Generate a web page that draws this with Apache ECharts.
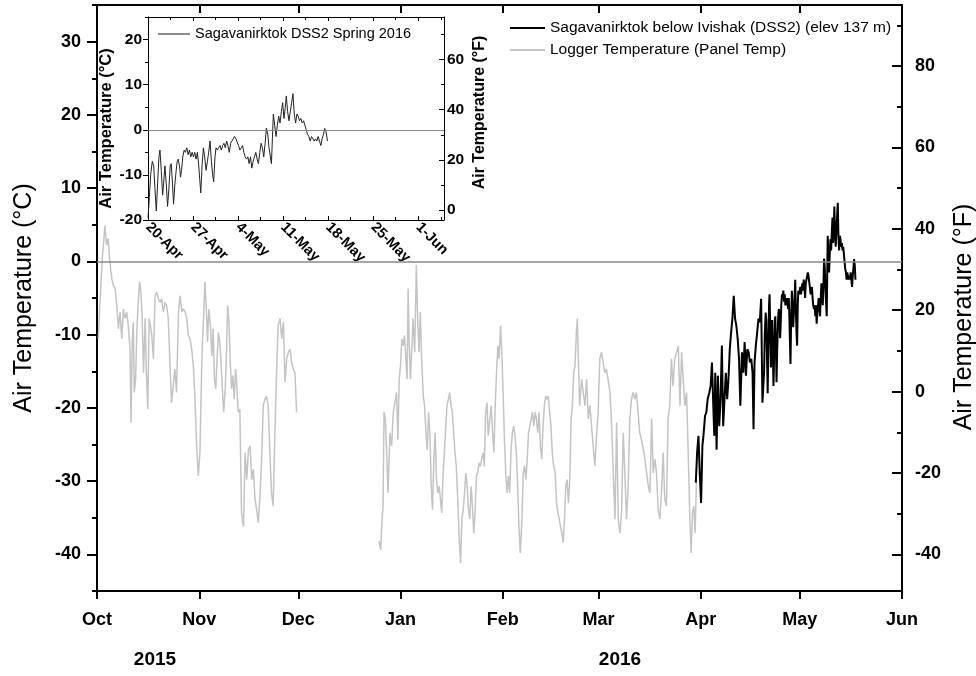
<!DOCTYPE html>
<html><head><meta charset="utf-8">
<script src="https://cdn.jsdelivr.net/npm/echarts@6/dist/echarts.min.js"></script>
<style>html,body{margin:0;padding:0;background:#fff}#c{width:976px;height:676px}</style>
</head><body><div id="c"></div>
<script>
// ---- tick labels / categories ----
const monthLabels = ['Oct','Nov','Dec','Jan','Feb','Mar','Apr','May','Jun'];
const monthStartDays = [0,31,61,92,123,152,183,213,244]; // days since 1-Oct-2015
const yearLabels = ['2015','2016'];
const cTicks = [-40,-30,-20,-10,0,10,20,30];
const cMinorTicks = [-45,-40,-35,-30,-25,-20,-15,-10,-5,0,5,10,15,20,25,30,35];
const fTicks = [-40,-20,0,20,40,60,80];
const fMinorTicks = [-40,-30,-20,-10,0,10,20,30,40,50,60,70,80,90];
const insetStartDay = 202; // 20-Apr-2016
const insetTickLabels = ['20-Apr','27-Apr','4-May','11-May','18-May','25-May','1-Jun'];
const insetCTicks = [-20,-10,0,10,20];
const insetCMinorTicks = [-20,-15,-10,-5,0,5,10,15,20,25];
const insetFTicks = [0,20,40,60];
const insetFMinorTicks = [0,10,20,30,40,50,60,70];

// ---- series values: [days since 1-Oct-2015, air temperature degC] ----
const loggerTemp = [
[0.4,-10.6],[0.9,-5.6],[1.6,0.4],[2.4,4.9],[2.9,2.2],[3.4,3.1],[3.9,-0.1],[4.5,-2.4],[5.0,-3.3],[5.5,-3.7],[6.0,-6.0],[6.5,-9.2],[7.0,-6.9],[7.5,-10.6],[8.0,-6.5],[8.5,-7.8],[9.0,-6.9],[9.5,-8.8],[10.0,-12.0],[10.3,-22.0],[10.7,-10.6],[11.0,-8.3],[11.3,-17.9],[11.7,-16.1],[12.1,-9.2],[12.5,-5.6],[12.9,-2.8],[13.3,-4.2],[13.7,-7.8],[14.1,-15.2],[14.6,-7.8],[15.0,-15.6],[15.4,-20.2],[15.8,-7.8],[16.2,-8.8],[16.6,-10.1],[17.1,-13.3],[17.6,-4.7],[18.1,-4.2],[18.6,-5.1],[19.1,-5.6],[19.6,-5.1],[20.1,-6.9],[20.6,-5.6],[21.1,-6.0],[21.6,-7.8],[22.1,-13.8],[22.6,-19.3],[23.1,-17.0],[23.6,-14.7],[24.1,-17.9],[24.7,-6.9],[25.2,-4.7],[25.7,-6.9],[26.2,-6.5],[26.7,-6.9],[27.2,-7.8],[27.7,-10.1],[28.2,-10.6],[28.7,-12.0],[29.2,-14.2],[29.7,-18.8],[30.2,-25.2],[30.7,-29.3],[31.2,-26.1],[31.5,-19.3],[31.9,-11.5],[32.3,-7.8],[32.7,-2.8],[33.1,-6.0],[33.5,-11.0],[33.9,-6.5],[34.4,-8.8],[34.8,-12.9],[35.2,-9.2],[35.6,-16.1],[36.0,-17.4],[36.4,-13.3],[36.8,-9.7],[37.2,-11.0],[37.6,-13.8],[38.0,-17.4],[38.4,-20.6],[38.8,-17.9],[39.2,-13.3],[39.6,-6.0],[40.0,-8.3],[40.4,-13.8],[40.8,-17.4],[41.2,-15.6],[41.6,-18.8],[42.0,-14.7],[42.4,-17.0],[42.8,-20.6],[43.3,-20.2],[43.8,-34.3],[44.4,-36.2],[44.9,-26.1],[45.4,-29.8],[45.9,-25.7],[46.4,-25.2],[46.9,-29.8],[47.4,-28.4],[47.9,-32.5],[48.4,-33.9],[48.9,-35.7],[49.4,-32.0],[49.9,-27.0],[50.4,-19.7],[50.9,-18.8],[51.4,-18.4],[51.9,-19.7],[52.4,-26.1],[52.9,-31.6],[53.4,-33.4],[53.9,-23.8],[54.4,-15.6],[54.9,-8.8],[55.5,-7.8],[56.0,-10.6],[56.5,-8.3],[57.0,-16.5],[57.5,-13.3],[58.0,-12.4],[58.5,-12.0],[59.0,-13.8],[59.5,-14.7],[60.0,-15.2],[60.5,-20.6],
[73,null],
[85.5,-38.2],[86.0,-39.4],[86.4,-35.2],[86.7,-33.4],[87.0,-20.6],[87.4,-21.5],[87.8,-26.1],[88.2,-31.6],[88.8,-23.4],[89.3,-25.2],[89.8,-20.6],[90.3,-19.3],[90.8,-17.9],[91.2,-24.3],[91.6,-16.1],[92.0,-14.2],[92.4,-10.6],[92.8,-11.5],[93.2,-10.1],[93.6,-13.3],[94.0,-16.1],[94.3,-3.7],[94.6,-10.6],[95.0,-16.1],[95.4,-12.0],[95.8,-7.8],[96.3,-12.4],[96.8,-0.5],[97.2,-7.8],[97.6,-12.4],[98.0,-6.9],[98.4,-13.3],[98.9,-18.4],[99.3,-19.7],[99.7,-23.4],[100.1,-25.7],[100.5,-20.6],[100.9,-23.4],[101.3,-30.7],[101.7,-33.9],[102.1,-27.0],[102.5,-23.4],[102.9,-29.8],[103.3,-31.6],[103.7,-30.7],[104.1,-32.5],[104.5,-34.3],[104.9,-28.9],[105.3,-26.1],[105.7,-22.5],[106.1,-19.7],[106.5,-18.8],[106.9,-17.9],[107.3,-19.7],[107.7,-20.6],[108.1,-23.4],[108.5,-26.1],[108.9,-27.9],[109.4,-33.0],[109.8,-38.0],[110.2,-41.2],[110.6,-35.2],[111.0,-33.9],[111.4,-31.6],[111.8,-28.9],[112.2,-30.7],[112.6,-33.9],[113.0,-35.2],[113.4,-30.7],[113.8,-33.4],[114.2,-37.1],[114.6,-34.3],[115.0,-29.3],[115.4,-28.9],[115.8,-27.5],[116.2,-28.0],[116.6,-27.0],[117.0,-26.1],[117.4,-28.0],[117.8,-20.6],[118.2,-19.3],[118.6,-23.8],[119.1,-21.5],[119.5,-19.7],[119.9,-23.4],[120.3,-26.1],[120.7,-19.7],[121.1,-15.2],[121.5,-11.5],[121.9,-13.3],[122.3,-8.8],[122.7,-12.4],[123.1,-17.9],[123.5,-24.3],[123.9,-28.9],[124.3,-31.6],[124.7,-29.3],[125.1,-31.6],[125.5,-25.7],[125.9,-23.4],[126.3,-22.5],[126.7,-23.8],[127.1,-26.1],[127.5,-30.7],[127.9,-36.2],[128.3,-39.8],[128.8,-35.2],[129.2,-28.9],[129.6,-27.9],[130.0,-29.8],[130.4,-27.0],[130.8,-23.4],[131.2,-22.5],[131.6,-21.5],[132.0,-20.6],[132.4,-22.5],[132.8,-20.6],[133.2,-21.5],[133.6,-23.4],[134.0,-20.6],[134.4,-25.2],[134.8,-27.0],[135.2,-22.5],[135.6,-19.7],[136.0,-18.4],[136.4,-18.8],[136.8,-18.4],[137.2,-20.6],[137.6,-22.5],[138.0,-26.1],[138.4,-27.9],[138.9,-28.9],[139.3,-33.0],[139.7,-34.3],[140.1,-35.2],[140.5,-36.2],[140.9,-37.1],[141.3,-38.4],[141.7,-35.2],[142.1,-30.7],[142.5,-29.8],[142.9,-33.0],[143.3,-29.8],[143.7,-21.5],[144.1,-19.7],[144.5,-15.2],[144.9,-14.2],[145.3,-9.7],[145.6,-7.8],[145.9,-13.3],[146.3,-19.7],
[146.9,-16.1],[147.4,-17.9],[147.9,-19.7],[148.4,-16.1],[148.9,-21.5],[149.4,-19.7],[149.9,-22.5],[150.4,-25.2],[150.9,-27.9],[151.4,-23.8],[151.9,-20.6],[152.4,-13.3],[152.9,-12.4],[153.4,-13.8],[153.9,-15.2],[154.4,-14.7],[154.9,-16.1],[155.5,-17.9],[156.0,-22.5],[156.5,-28.9],[157.0,-35.2],[157.5,-22.0],[158.0,-35.2],[158.5,-37.1],[159.0,-34.3],[159.5,-23.4],[160.0,-28.9],[160.5,-35.2],[161.0,-30.7],[161.5,-21.5],[162.0,-18.8],[162.5,-17.9],[163.0,-18.8],[163.5,-17.9],[164.0,-20.6],[164.5,-23.4],[165.0,-24.3],[165.6,-25.7],[166.1,-27.0],[166.6,-28.9],[167.1,-30.7],[167.6,-31.6],[168.1,-21.5],[168.6,-28.9],[169.1,-27.0],[169.6,-28.9],[170.1,-33.9],[170.6,-35.2],[171.1,-31.6],[171.6,-26.1],[172.1,-32.5],[172.6,-33.4],[173.1,-21.5],[173.6,-19.7],[174.1,-13.3],[174.6,-17.0],[175.1,-13.3],[175.7,-12.4],[176.2,-11.5],[176.7,-19.7],[177.2,-12.4],[177.7,-16.1],[178.2,-19.7],[178.7,-17.9],[179.2,-26.1],[179.7,-35.2],[180.1,-39.8],[180.5,-34.3],[180.9,-33.4],[181.3,-37.1],[181.7,-29.8]
];
const dss2Temp = [
[181.5,-30.2],[181.9,-26.1],[182.3,-23.8],[182.7,-28.9],[183.1,-33.0],[183.5,-25.2],[183.9,-23.4],[184.3,-21.1],[184.7,-20.6],[185.1,-18.8],[185.6,-17.9],[186.0,-17.0],[186.4,-13.8],[186.8,-19.7],[187.1,-23.8],[187.4,-15.2],[187.8,-25.7],[188.2,-15.6],[188.6,-22.5],[189.0,-18.8],[189.4,-11.5],[189.8,-22.5],[190.2,-18.8],[190.6,-15.2],[191.0,-18.8],[191.4,-16.1],[191.8,-12.0],[192.2,-9.7],[192.6,-7.8],[193.0,-4.7],[193.4,-7.8],[193.8,-8.8],[194.2,-10.6],[194.6,-13.3],[195.0,-19.7],[195.5,-12.4],[195.9,-15.2],[196.3,-11.0],[196.7,-15.6],[197.1,-12.0],[197.5,-12.4],[197.9,-13.8],[198.3,-13.3],[198.7,-15.2],[199.0,-22.9],[199.3,-13.8],[199.7,-11.5],[200.1,-9.7],[200.5,-7.8],[200.9,-8.3],[201.3,-5.1],[201.7,-19.3],
[202.00,-19.5],[202.21,-15],[202.41,-10],[202.67,-7],[202.88,-8],[203.08,-13],[203.29,-18],[203.49,-12],[203.70,-6],[203.86,-4.5],[204.06,-9],[204.27,-14.5],[204.42,-12],[204.63,-8],[204.84,-12],[205.04,-17],[205.25,-13],[205.45,-8],[205.61,-7.5],[205.81,-12],[205.97,-16.5],[206.18,-12],[206.38,-9],[206.54,-7],[206.69,-6.5],[206.90,-8],[207.05,-10.5],[207.21,-9],[207.41,-6],[207.62,-4.5],[207.82,-5],[208.03,-4],[208.24,-5.5],[208.44,-4.5],[208.65,-6],[208.86,-5],[209.06,-6],[209.27,-5],[209.47,-6.5],[209.68,-5],[209.89,-8],[210.04,-11],[210.20,-14],[210.40,-8],[210.61,-4],[210.81,-6],[211.02,-9],[211.23,-7],[211.43,-5],[211.64,-2.5],[211.85,-7],[212.05,-10],[212.21,-11.5],[212.41,-6],[212.57,-4],[212.77,-4.5],[212.98,-4],[213.19,-3.5],[213.39,-4.5],[213.60,-3.5],[213.80,-3],[214.01,-4],[214.22,-2.5],[214.42,-3.5],[214.63,-5],[214.84,-3],[215.04,-2.5],[215.25,-2],[215.45,-1.5],[215.66,-2],[215.87,-2],[216.07,-3.5],[216.28,-4.5],[216.48,-4],[216.69,-3.5],[216.90,-5],[217.10,-6],[217.31,-6.5],[217.52,-6],[217.72,-7.5],[217.93,-6],[218.13,-8.5],[218.34,-7],[218.55,-6],[218.75,-5],[218.96,-6.5],[219.16,-7.5],[219.37,-5],[219.58,-3],[219.78,-4],[219.99,-6],[220.20,-3],[220.40,0.4],[220.61,-1],[220.81,-4],[221.02,-6],[221.18,-7.5],[221.33,-2],[221.48,3.5],[221.69,1],[221.90,-1.5],[222.10,1],[222.31,3],[222.52,1.5],[222.72,4],[222.93,6],[223.13,2.5],[223.34,5],[223.49,7.5],[223.70,4],[223.91,2],[224.11,4],[224.32,6],[224.53,8],[224.73,3.5],[224.94,1.5],[225.14,3.5],[225.35,3],[225.56,2],[225.76,2.5],[225.97,1.5],[226.18,2],[226.38,1],[226.59,0],[226.79,-1],[227.00,-1.5],[227.21,-2.5],[227.41,-1.5],[227.62,-2],[227.82,-2.5],[228.03,-2],[228.24,-2.5],[228.44,-1.5],[228.65,-2.5],[228.86,-3.5],[229.06,-2],[229.27,-1],[229.47,0.3],[229.68,-0.5],[229.89,-2.5]
];

const C_MIN = -45, C_MAX = 35, X_MAX = 244;
const IN_C_MIN = -20, IN_C_MAX = 25, IN_X_MAX = 46;
const toF = c => Math.round((c * 1.8 + 32) * 100) / 100;
const FONT = 'Liberation Sans';
const NAME_MAIN = 'Sagavanirktok below Ivishak (DSS2) (elev 137 m)';
const NAME_LOGGER = 'Logger Temperature (Panel Temp)';
const NAME_INSET = 'Sagavanirktok DSS2 Spring 2016';

const insetData = dss2Temp.filter(p => p[0] >= insetStartDay).map(p => [Math.round((p[0] - insetStartDay) * 100) / 100, p[1]]);

const blackLine = { show: true, onZero: false, lineStyle: { color: '#000', width: 2 } };
const thinLine = { show: true, onZero: false, lineStyle: { color: '#000', width: 1 } };
const noLine = { show: false, onZero: false };
const noSplit = { show: false };
const boldLbl = (size) => ({ color: '#000', fontFamily: FONT, fontWeight: 'bold', fontSize: size });

const chart = echarts.init(document.getElementById('c'));
chart.setOption({
  animation: false,
  backgroundColor: '#fff',
  grid: [
    { left: 97, right: 74, top: 5, bottom: 85, containLabel: false, outerBoundsMode: 'none' },
    { left: 148, top: 17, width: 296, height: 203, containLabel: false, outerBoundsMode: 'none' }
  ],
  legend: [
    { data: [NAME_MAIN, NAME_LOGGER], orient: 'vertical', left: 505, top: 14, icon: 'rect', itemWidth: 35, itemHeight: 2, itemGap: 4,
      textStyle: { fontFamily: FONT, fontSize: 15.5, color: '#000', lineHeight: 18 } },
    { data: [NAME_INSET], left: 153, top: 20, icon: 'rect', itemWidth: 32, itemHeight: 1.5,
      textStyle: { fontFamily: FONT, fontSize: 14.5, color: '#000', lineHeight: 18 } }
  ],
  xAxis: [
    { type: 'value', gridIndex: 0, min: 0, max: X_MAX, position: 'bottom', axisLine: blackLine, splitLine: noSplit,
      axisTick: { show: true, customValues: monthStartDays, length: 8, lineStyle: { width: 2, color: '#000' } },
      axisLabel: Object.assign({ customValues: monthStartDays, margin: 20,
        formatter: v => monthLabels[monthStartDays.indexOf(v)] || '' }, boldLbl(18)) },
    { type: 'value', gridIndex: 0, min: 0, max: X_MAX, position: 'top', axisLine: blackLine, splitLine: noSplit,
      axisTick: { show: true, inside: true, customValues: monthStartDays, length: 8, lineStyle: { width: 2, color: '#000' } },
      axisLabel: { show: false } },
    { type: 'value', gridIndex: 1, min: 0, max: IN_X_MAX, interval: 7, position: 'bottom', axisLine: thinLine, splitLine: noSplit,
      axisTick: { show: true, inside: true, length: 4, lineStyle: { color: '#000' } },
      minorTick: { show: true, splitNumber: 2, length: 3, lineStyle: { color: '#000' } },
      axisLabel: Object.assign({ rotate: -45, margin: 5,
        formatter: v => (v % 7 === 0 ? insetTickLabels[v / 7] : '') || '' }, boldLbl(14.5)) },
    { type: 'value', gridIndex: 1, min: 0, max: IN_X_MAX, interval: 7, position: 'top', axisLine: thinLine, splitLine: noSplit,
      axisTick: { show: true, inside: true, length: 4, lineStyle: { color: '#000' } },
      minorTick: { show: true, splitNumber: 2, length: 3, lineStyle: { color: '#000' } },
      axisLabel: { show: false } }
  ],
  yAxis: [
    // main degC (major)
    { type: 'value', gridIndex: 0, min: C_MIN, max: C_MAX, position: 'left', axisLine: blackLine, splitLine: noSplit,
      axisTick: { show: true, customValues: cTicks, length: 10, lineStyle: { width: 2, color: '#000' } },
      axisLabel: Object.assign({ customValues: cTicks, margin: 16 }, boldLbl(18)),
      name: 'Air Temperature (°C)', nameLocation: 'middle', nameGap: 60,
      nameTextStyle: { fontFamily: FONT, fontSize: 25, color: '#000' } },
    // main degC (minor)
    { type: 'value', gridIndex: 0, min: C_MIN, max: C_MAX, position: 'left', axisLine: noLine, splitLine: noSplit,
      axisTick: { show: true, customValues: cMinorTicks, length: 5, lineStyle: { width: 2, color: '#000' } },
      axisLabel: { show: false } },
    // main degF (major)
    { type: 'value', gridIndex: 0, min: toF(C_MIN), max: toF(C_MAX), position: 'right', axisLine: blackLine, splitLine: noSplit,
      axisTick: { show: true, inside: true, customValues: fTicks, length: 10, lineStyle: { width: 2, color: '#000' } },
      axisLabel: Object.assign({ customValues: fTicks, margin: 13 }, boldLbl(18)),
      name: 'Air Temperature (°F)', nameLocation: 'middle', nameGap: 37,
      nameTextStyle: { fontFamily: FONT, fontSize: 25, color: '#000', padding: [0, 38, 0, 0] } },
    // main degF (minor)
    { type: 'value', gridIndex: 0, min: toF(C_MIN), max: toF(C_MAX), position: 'right', axisLine: noLine, splitLine: noSplit,
      axisTick: { show: true, inside: true, customValues: fMinorTicks, length: 5, lineStyle: { width: 2, color: '#000' } },
      axisLabel: { show: false } },
    // inset degC (major)
    { type: 'value', gridIndex: 1, min: IN_C_MIN, max: IN_C_MAX, position: 'left', axisLine: thinLine, splitLine: noSplit,
      axisTick: { show: true, customValues: insetCTicks, length: 5, lineStyle: { color: '#000' } },
      axisLabel: Object.assign({ customValues: insetCTicks, margin: 6 }, boldLbl(15.5)),
      name: 'Air Temperature (°C)', nameLocation: 'middle', nameGap: 33,
      nameTextStyle: Object.assign({ padding: [0, 20, 0, 0] }, boldLbl(16.5)) },
    // inset degC (minor)
    { type: 'value', gridIndex: 1, min: IN_C_MIN, max: IN_C_MAX, position: 'left', axisLine: noLine, splitLine: noSplit,
      axisTick: { show: true, customValues: insetCMinorTicks, length: 3, lineStyle: { color: '#000' } },
      axisLabel: { show: false } },
    // inset degF (major)
    { type: 'value', gridIndex: 1, min: toF(IN_C_MIN), max: toF(IN_C_MAX), position: 'right', axisLine: thinLine, splitLine: noSplit,
      axisTick: { show: true, inside: true, customValues: insetFTicks, length: 5, lineStyle: { color: '#000' } },
      axisLabel: Object.assign({ customValues: insetFTicks, margin: 3 }, boldLbl(15.5)),
      name: 'Air Temperature (°F)', nameLocation: 'middle', nameGap: 28,
      nameTextStyle: Object.assign({ padding: [0, 0, 0, 12] }, boldLbl(16)) },
    // inset degF (minor)
    { type: 'value', gridIndex: 1, min: toF(IN_C_MIN), max: toF(IN_C_MAX), position: 'right', axisLine: noLine, splitLine: noSplit,
      axisTick: { show: true, inside: true, customValues: insetFMinorTicks, length: 3, lineStyle: { color: '#000' } },
      axisLabel: { show: false } }
  ],
  series: [
    { name: NAME_LOGGER, type: 'line', xAxisIndex: 0, yAxisIndex: 0, data: loggerTemp, symbol: 'none', connectNulls: false,
      lineStyle: { color: '#c4c4c4', width: 1.5 }, itemStyle: { color: '#c4c4c4' }, z: 2,
      markLine: { silent: true, symbol: 'none', label: { show: false }, data: [{ yAxis: 0 }],
        lineStyle: { color: '#888', width: 1.5, type: 'solid' } } },
    { name: NAME_MAIN, type: 'line', xAxisIndex: 0, yAxisIndex: 0, data: dss2Temp, symbol: 'none',
      lineStyle: { color: '#000', width: 2 }, itemStyle: { color: '#000' }, z: 3 },
    { name: NAME_INSET, type: 'line', xAxisIndex: 2, yAxisIndex: 4, data: insetData, symbol: 'none',
      lineStyle: { color: '#222', width: 1 }, itemStyle: { color: '#666' }, z: 4,
      markLine: { silent: true, symbol: 'none', label: { show: false }, data: [{ yAxis: 0 }],
        lineStyle: { color: '#888', width: 1, type: 'solid' } } }
  ],
  graphic: [
    { type: 'text', x: 155, y: 660, style: { text: yearLabels[0], font: 'bold 19px "Liberation Sans"', fill: '#000', align: 'center', verticalAlign: 'middle' } },
    { type: 'text', x: 620, y: 660, style: { text: yearLabels[1], font: 'bold 19px "Liberation Sans"', fill: '#000', align: 'center', verticalAlign: 'middle' } }
  ]
});
</script></body></html>
